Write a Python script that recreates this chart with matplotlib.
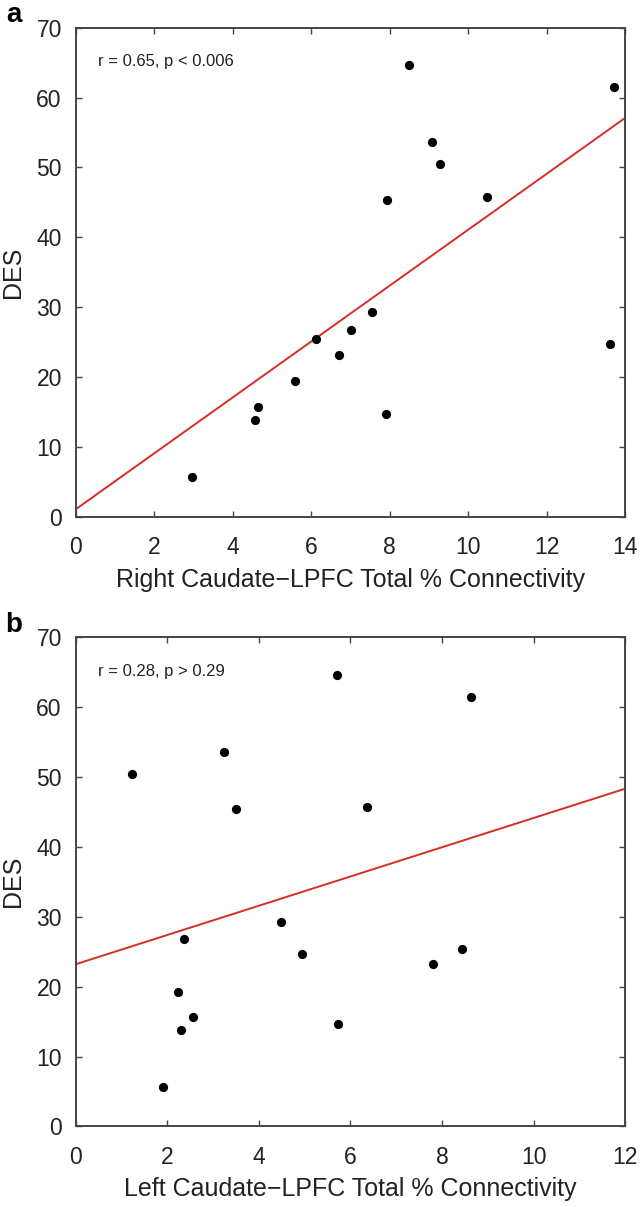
import matplotlib.pyplot as plt

plt.rcParams['font.family'] = ['Liberation Sans', 'DejaVu Sans']

# Panel a: right caudate-LPFC connectivity vs DES
right_conn = [8.48, 13.72, 9.08, 9.28, 7.94, 10.48, 7.56, 7.02, 6.12, 6.71, 13.61, 5.58, 4.64, 4.56, 7.90, 2.95]
des_a = [64.7, 61.5, 53.6, 50.5, 45.4, 45.8, 29.3, 26.8, 25.5, 23.2, 24.7, 19.4, 15.8, 13.9, 14.7, 5.7]
fit_a_x = [0, 14]
fit_a_y = [1.1, 57.1]

# Panel b: left caudate-LPFC connectivity vs DES
left_conn = [5.70, 8.63, 3.24, 1.23, 3.49, 6.37, 4.49, 2.36, 4.94, 8.43, 7.80, 2.24, 2.57, 2.31, 5.72, 1.90]
des_b = [64.6, 61.4, 53.6, 50.4, 45.4, 45.7, 29.2, 26.8, 24.6, 25.4, 23.2, 19.3, 15.7, 13.8, 14.6, 5.7]
fit_b_x = [0, 12]
fit_b_y = [23.2, 48.3]

fig = plt.figure(figsize=(6.41, 12.07), dpi=100)
ax_a = fig.add_axes([0.1181, 0.5717, 0.8574, 0.4054])
ax_b = fig.add_axes([0.1181, 0.0667, 0.8574, 0.4056])

panels = [
    (ax_a, right_conn, des_a, fit_a_x, fit_a_y, 14, 'Right Caudate\u2212LPFC Total % Connectivity',
     'r = 0.65, p < 0.006', 'a'),
    (ax_b, left_conn, des_b, fit_b_x, fit_b_y, 12, 'Left Caudate\u2212LPFC Total % Connectivity',
     'r = 0.28, p > 0.29', 'b'),
]

for ax, xs, ys, fx, fy, xmax, xlabel, stat, tag in panels:
    ax.plot(fx, fy, color='#d62d27', lw=1.4, zorder=2)
    ax.scatter(xs, ys, s=44, color='black', zorder=3, linewidths=0)
    ax.set_xlim(0, xmax)
    ax.set_ylim(0, 70)
    ax.set_xticks(range(0, xmax + 1, 2))
    ax.set_yticks(range(0, 71, 10))
    ax.tick_params(direction='in', length=4, width=1, top=True, right=True,
                   labelsize=16.5, color='#444444', labelcolor='#222222')
    ax.tick_params(axis='x', pad=14)
    ax.tick_params(axis='y', pad=10)
    for sp in ax.spines.values():
        sp.set_color('#444444')
        sp.set_linewidth(1.4)
    ax.set_xlabel(xlabel, fontsize=18, color='#222222', labelpad=6)
    ax.set_ylabel('DES', fontsize=18, color='#222222', labelpad=8)
    ax.text(0.04, 0.93, stat, transform=ax.transAxes, fontsize=12,
            family=['Liberation Sans Narrow', 'Liberation Sans', 'DejaVu Sans'],
            color='#222222', va='center', ha='left')
    ax.text(-0.112, 1.025, tag, transform=ax.transAxes, fontsize=20,
            fontweight='bold', va='center', ha='center')

plt.savefig('out.png', dpi=100)
